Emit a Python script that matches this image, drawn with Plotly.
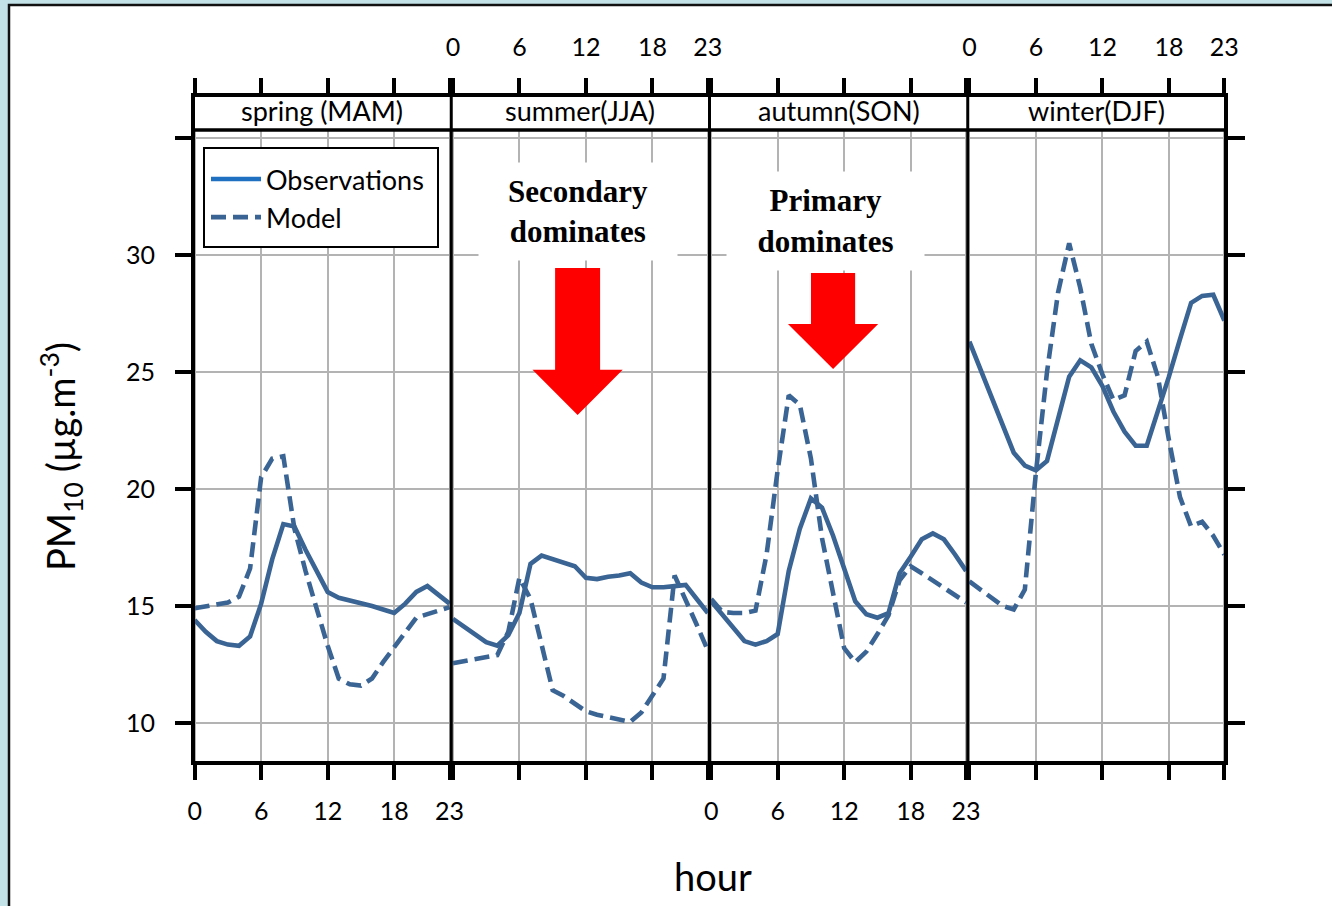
import plotly.graph_objects as go

# ---------------- data ----------------
hours = list(range(24))
seasons = ["spring (MAM)", "summer(JJA)", "autumn(SON)", "winter(DJF)"]
hour_ticks = [0, 6, 12, 18, 23]
pm_ticks = [10, 15, 20, 25, 30, 35]
pm_ticktext = ["10", "15", "20", "25", "30", ""]

spring_obs = [14.4, 13.9, 13.5, 13.35, 13.3, 13.7, 15.1, 17.0, 18.5, 18.4, 17.4, 16.5,
              15.6, 15.35, 15.25, 15.15, 15.0, 14.85, 14.7, 15.1, 15.6, 15.85, 15.5, 15.1]
spring_mod = [14.9, 15.0, 15.05, 15.15, 15.4, 16.6, 20.5, 21.3, 21.4, 18.3, 16.5, 14.9,
              13.3, 11.9, 11.65, 11.6, 11.9, 12.6, 13.25, 13.9, 14.5, 14.65, 14.8, 14.95]
summer_obs = [14.45, 14.1, 13.8, 13.45, 13.3, 13.75, 14.7, 16.8, 17.15, 17.0, 16.85, 16.7,
              16.2, 16.15, 16.25, 16.3, 16.4, 16.0, 15.8, 15.8, 15.85, 15.9, 15.3, 14.7]
summer_mod = [12.55, 12.65, 12.7, 12.8, 12.9, 13.9, 16.2, 15.3, 13.3, 11.4, 11.15, 10.8,
              10.5, 10.35, 10.25, 10.15, 10.05, 10.45, 11.2, 11.9, 16.3, 15.3, 14.2, 13.1]
autumn_obs = [15.2, 14.65, 14.1, 13.5, 13.35, 13.5, 13.8, 16.5, 18.3, 19.6, 19.2, 18.0,
              16.6, 15.2, 14.65, 14.5, 14.7, 16.4, 17.1, 17.85, 18.1, 17.85, 17.2, 16.5]
autumn_mod = [15.3, 14.75, 14.7, 14.7, 14.8, 17.2, 20.8, 24.0, 23.6, 21.3, 17.9, 15.5,
              13.2, 12.6, 13.05, 13.8, 14.6, 16.1, 16.7, 16.4, 16.1, 15.8, 15.5, 15.15]
winter_obs = [26.3, 25.1, 23.9, 22.75, 21.55, 21.0, 20.8, 21.2, 23.1, 24.8, 25.5, 25.2,
              24.4, 23.3, 22.45, 21.85, 21.85, 23.3, 24.8, 26.4, 27.95, 28.25, 28.3, 27.2]
winter_mod = [16.05, 15.7, 15.35, 15.0, 14.85, 15.7, 20.7, 25.0, 28.4, 30.5, 28.6, 26.2,
              24.9, 23.8, 24.0, 25.9, 26.3, 24.8, 22.1, 19.65, 18.4, 18.6, 18.0, 17.2]

observations = [spring_obs, summer_obs, autumn_obs, winter_obs]
model = [spring_mod, summer_mod, autumn_mod, winter_mod]

# text boxes: (panel, hour, value, text, box width, box height)
notes = [(1, 11.3, 31.86, "Secondary<br>dominates", 198, 97),
         (2, 10.33, 31.45, "Primary<br>dominates", 197, 98)]
# red arrows: (panel, centre hour, shaft half-width, head half-width, top, head base, tip)
arrows = [(1, 11.25, 2.03, 4.07, 29.44, 25.09, 23.16),
          (2, 11.0, 1.99, 4.07, 29.23, 27.05, 25.13)]

# ---------------- geometry ----------------
W, H = 1332, 906
PX_L, PX_R = 193, 1226
PX_TOP, PX_BOT = 130, 763
PX_STRIP = 95
PW = (PX_R - PX_L) / 4
LEG_BOX = (204, 438, 148, 247)   # legend frame (left, right, top, bottom) in px


def fx(px):
    return px / W


def fy(py):
    return 1 - py / H


XR = [-0.15, 23.15]
YR = [8.29, 35.34]
LINE = "#3a6494"
FONT = "Lato"
GRID = "#b3b3b3"

fig = go.Figure()

for i in range(4):
    xa = "x" if i == 0 else f"x{i+1}"
    ya = "y" if i == 0 else f"y{i+1}"
    fig.add_trace(go.Scatter(x=hours, y=model[i], mode="lines", xaxis=xa, yaxis=ya,
                             line=dict(color=LINE, width=4.6, dash="15px,7px"),
                             showlegend=False, hoverinfo="skip"))
    fig.add_trace(go.Scatter(x=hours, y=observations[i], mode="lines", xaxis=xa, yaxis=ya,
                             line=dict(color=LINE, width=4.6),
                             showlegend=False, hoverinfo="skip"))
    # empty trace so the top tick axis of the panel is drawn
    fig.add_trace(go.Scatter(x=[None], y=[None], mode="lines", xaxis=f"x{i+5}", yaxis=ya,
                             showlegend=False, hoverinfo="skip"))

fig.add_trace(go.Scatter(x=[None], y=[None], mode="lines", name="Observations",
                         line=dict(color="#1f70c1", width=4.6)))
fig.add_trace(go.Scatter(x=[None], y=[None], mode="lines", name="Model",
                         line=dict(color=LINE, width=4.6, dash="15px,7px")))

layout = dict(
    width=W, height=H, autosize=False,
    margin=dict(l=0, r=0, t=0, b=0, pad=0, autoexpand=False),
    paper_bgcolor="#c3e2e7", plot_bgcolor="rgba(0,0,0,0)",
    font=dict(family=FONT, size=25, color="black"),
    showlegend=True,
    legend=dict(x=fx(206), y=fy(155), xanchor="left", yanchor="top",
                bgcolor="rgba(0,0,0,0)", borderwidth=0,
                font=dict(family=FONT, size=27, color="black"),
                tracegroupgap=0, itemwidth=50),
)

ydom = [fy(PX_BOT), fy(PX_TOP)]
for i in range(4):
    xdom = [fx(PX_L + i * PW), fx(PX_L + (i + 1) * PW)]
    xk = "xaxis" if i == 0 else f"xaxis{i+1}"
    yk = "yaxis" if i == 0 else f"yaxis{i+1}"
    layout[xk] = dict(domain=xdom, range=XR, anchor="y" if i == 0 else f"y{i+1}",
                      tickvals=hour_ticks, ticks="outside", ticklen=16, tickwidth=3.5,
                      tickcolor="black", showticklabels=(i in (0, 2)),
                      ticklabelstandoff=10, automargin=False,
                      showgrid=True, gridcolor=GRID, gridwidth=1.6, zeroline=False,
                      showline=False, tickfont=dict(family=FONT, size=25))
    ya = dict(domain=ydom, range=YR, anchor="x" if i == 0 else f"x{i+1}",
              tickvals=pm_ticks, showgrid=True, gridcolor=GRID, gridwidth=1.6,
              zeroline=False, showline=False, automargin=False,
              tickfont=dict(family=FONT, size=25))
    if i == 0:
        ya.update(ticks="outside", ticklen=17, tickwidth=3.5, tickcolor="black",
                  ticktext=pm_ticktext, ticklabelstandoff=15)
    elif i == 3:
        ya.update(side="right", ticks="outside", ticklen=18, tickwidth=3.5,
                  tickcolor="black", showticklabels=False)
    else:
        ya.update(ticks="", showticklabels=False)
    layout[yk] = ya
    layout[f"xaxis{i+5}"] = dict(overlaying="x" if i == 0 else f"x{i+1}", side="top",
                                 anchor="free", position=fy(PX_STRIP), range=XR,
                                 tickvals=hour_ticks, ticks="outside", ticklen=17,
                                 tickwidth=3.5, tickcolor="black", automargin=False,
                                 showticklabels=(i in (1, 3)), ticklabelstandoff=12,
                                 showgrid=False, zeroline=False, showline=False,
                                 tickfont=dict(family=FONT, size=25))

fig.update_layout(**layout)

shapes = []
# white page with a dark left/top edge
shapes.append(dict(type="rect", xref="paper", yref="paper", x0=fx(9), x1=1.05,
                   y0=-0.05, y1=fy(5), fillcolor="white",
                   line=dict(color="#111111", width=2.5), layer="below"))
# red arrows
for p, c, sw, hw, top, base, tip in arrows:
    path = (f"M {c-sw} {top} L {c+sw} {top} L {c+sw} {base} L {c+hw} {base} "
            f"L {c} {tip} L {c-hw} {base} L {c-sw} {base} Z")
    shapes.append(dict(type="path", xref=f"x{p+1}", yref=f"y{p+1}", path=path,
                       fillcolor="#ff0000", line=dict(width=0), layer="above"))
# legend frame
shapes.append(dict(type="rect", xref="paper", yref="paper", x0=fx(LEG_BOX[0]),
                   x1=fx(LEG_BOX[1]), y0=fy(LEG_BOX[3]), y1=fy(LEG_BOX[2]),
                   fillcolor="white", line=dict(color="black", width=2), layer="above"))
# frame, strip, dividers
shapes.append(dict(type="rect", xref="paper", yref="paper", x0=fx(PX_L), x1=fx(PX_R),
                   y0=fy(PX_BOT), y1=fy(PX_STRIP), line=dict(color="black", width=4),
                   fillcolor="rgba(0,0,0,0)", layer="above"))
shapes.append(dict(type="line", xref="paper", yref="paper", x0=fx(PX_L), x1=fx(PX_R),
                   y0=fy(PX_TOP), y1=fy(PX_TOP), line=dict(color="black", width=3.5),
                   layer="above"))
for i in range(1, 4):
    xp = fx(PX_L + i * PW)
    shapes.append(dict(type="line", xref="paper", yref="paper", x0=xp, x1=xp,
                       y0=fy(PX_BOT), y1=fy(PX_STRIP), line=dict(color="black", width=3),
                       layer="above"))
fig.update_layout(shapes=shapes)

ann = []
for i, s in enumerate(seasons):
    ann.append(dict(text=s, xref="paper", yref="paper",
                    x=fx(PX_L + (i + 0.5) * PW), y=fy(111),
                    xanchor="center", yanchor="middle", showarrow=False,
                    font=dict(family=FONT, size=27, color="black")))
for p, hx, vy, txt, w, h in notes:
    ann.append(dict(text=f"<b>{txt}</b>", xref=f"x{p+1}", yref=f"y{p+1}", x=hx, y=vy,
                    xanchor="center", yanchor="middle", showarrow=False,
                    width=w, height=h, bgcolor="white", borderpad=0,
                    font=dict(family="Liberation Serif", size=31, color="black")))
ann.append(dict(text="PM<sub>10</sub> (µg.m<sup>-3</sup>)", xref="paper", yref="paper",
                x=fx(61), y=fy(457), textangle=-90, showarrow=False,
                xanchor="center", yanchor="middle",
                font=dict(family=FONT, size=38, color="black")))
ann.append(dict(text="hour", xref="paper", yref="paper", x=fx(713), y=fy(876),
                showarrow=False, xanchor="center", yanchor="middle",
                font=dict(family=FONT, size=38, color="black")))
fig.update_layout(annotations=ann)

fig.write_html("out.html")
